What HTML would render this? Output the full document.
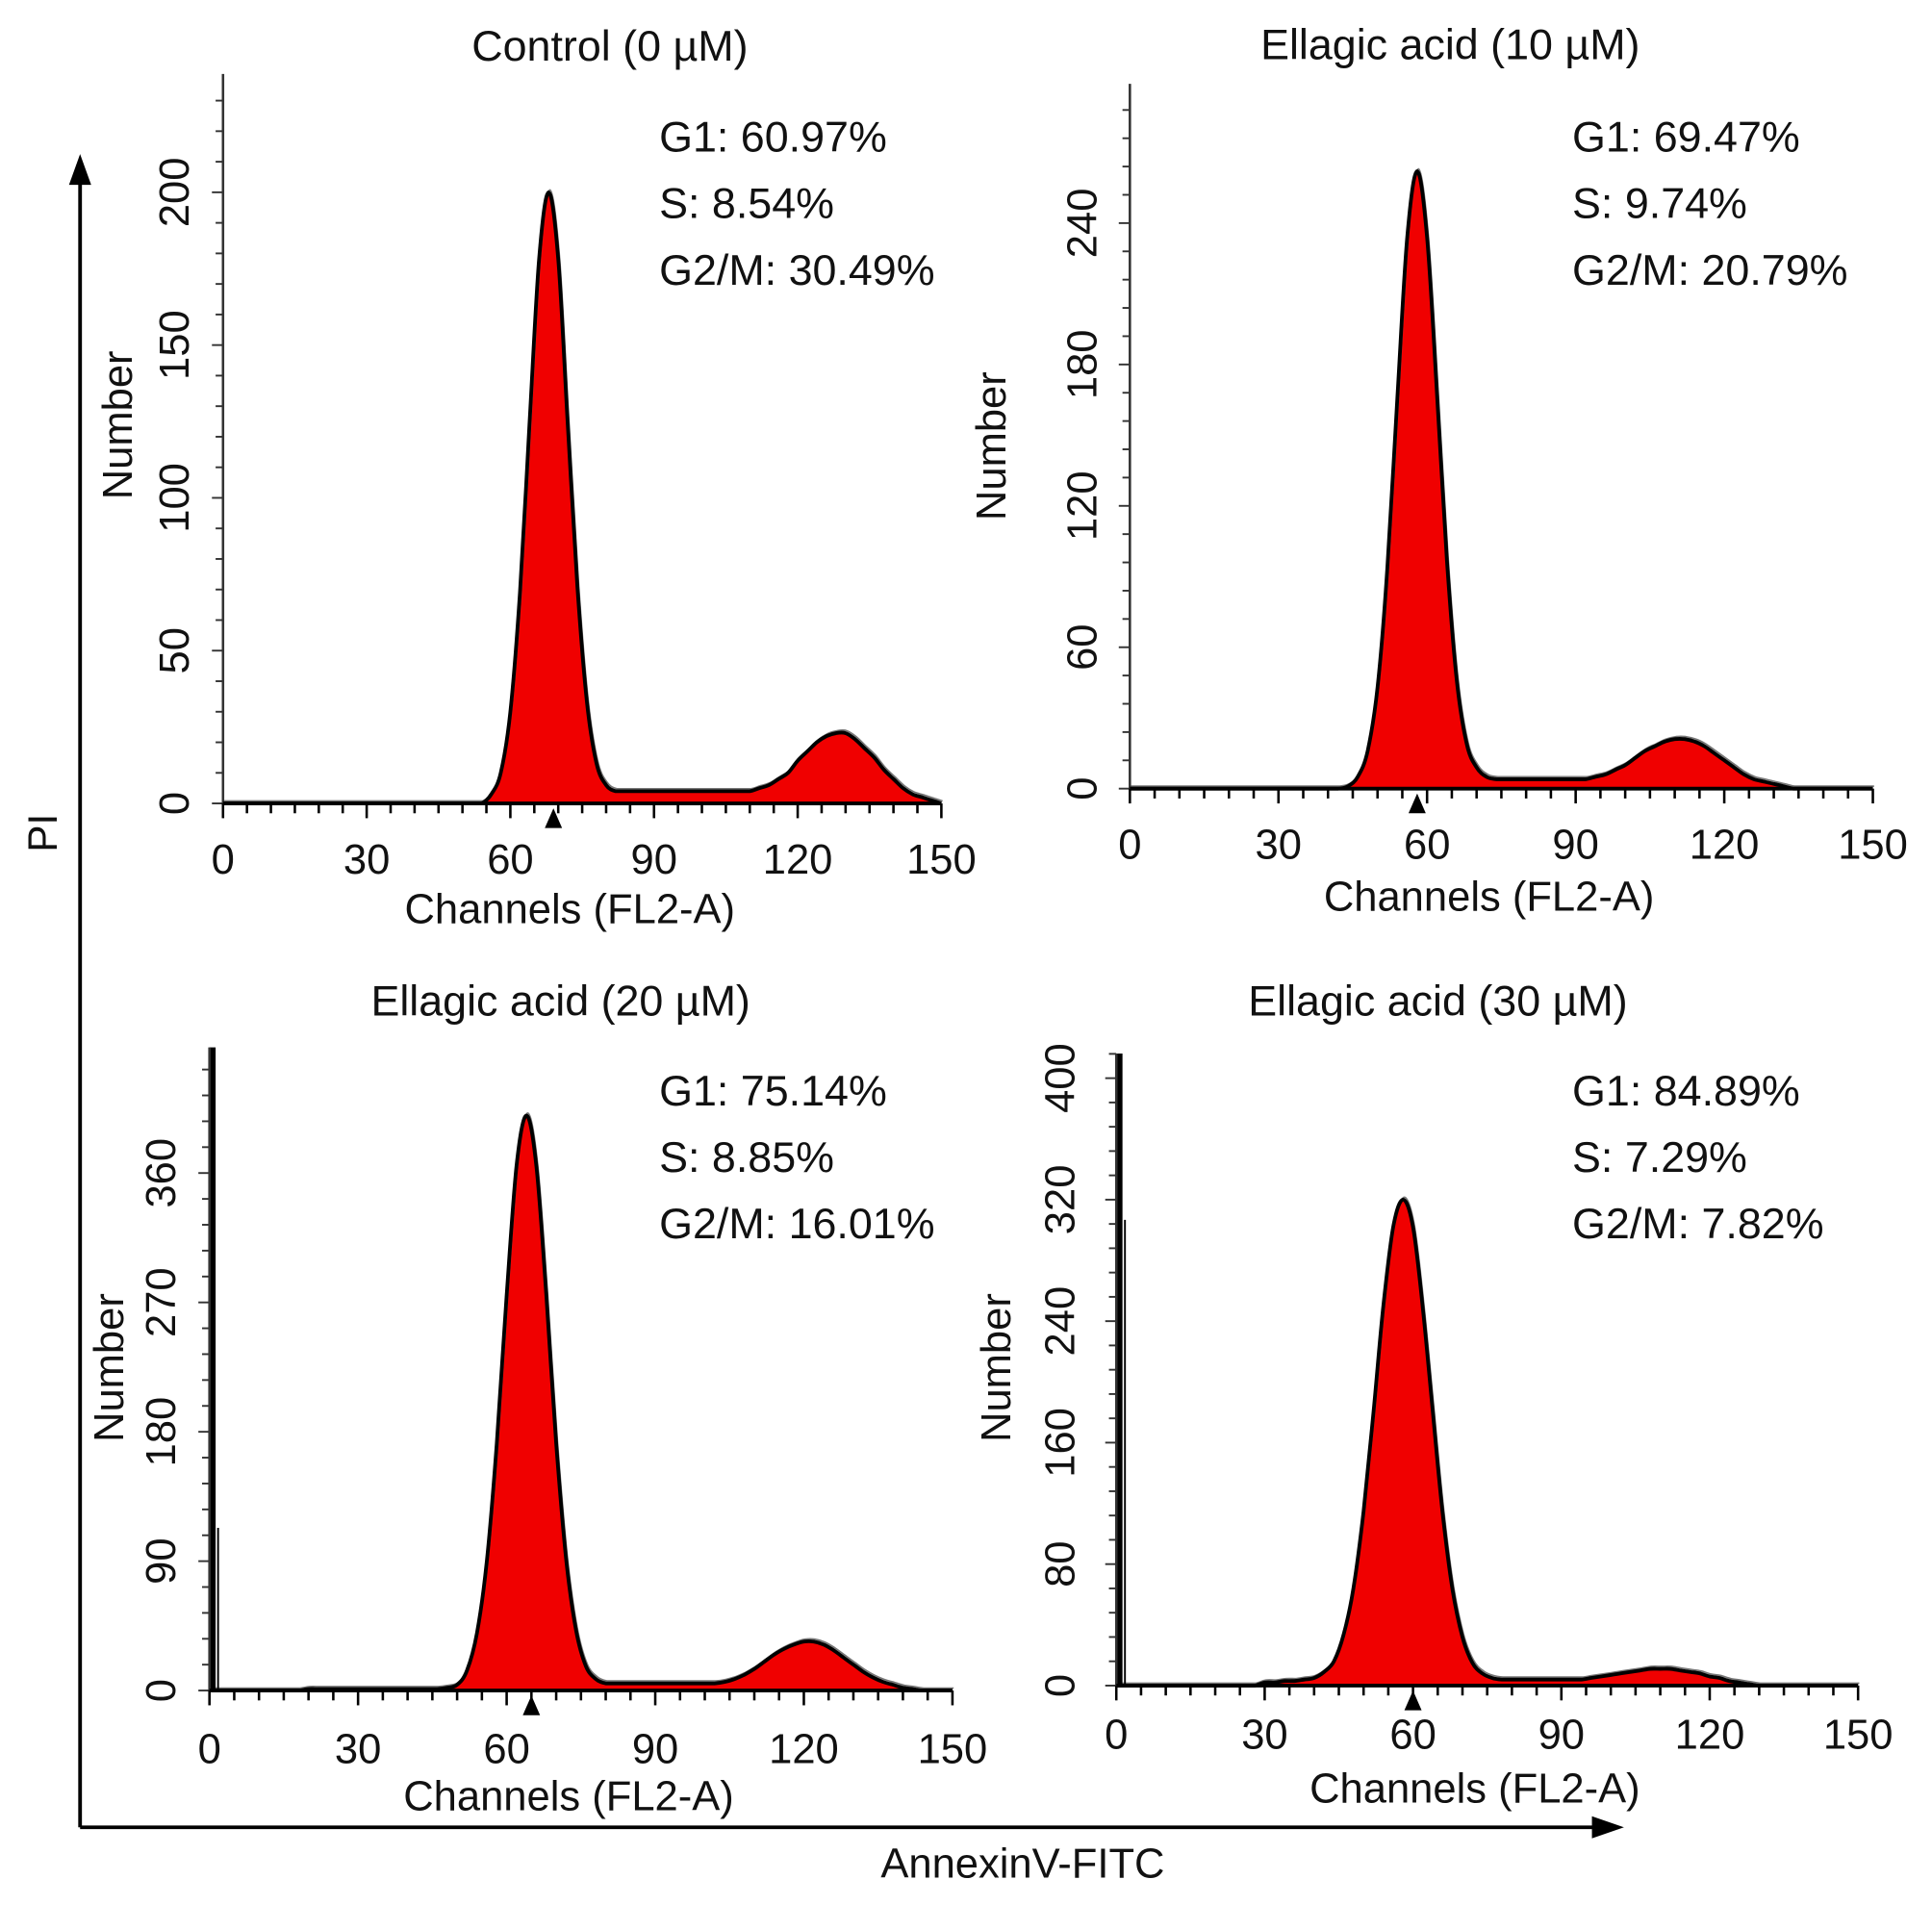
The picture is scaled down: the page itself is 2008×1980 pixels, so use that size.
<!DOCTYPE html>
<html><head><meta charset="utf-8"><style>
html,body{margin:0;padding:0;background:#fff}
svg{display:block}
text{font-family:"Liberation Sans",Arial,sans-serif;fill:#111}
</style></head><body>
<svg id="fig" width="2008" height="1980" viewBox="0 0 1568 1546" xmlns="http://www.w3.org/2000/svg">
<g>
<line x1="65" y1="1483" x2="65" y2="145" stroke="#000" stroke-width="3"/>
<polygon points="56,150 74,150 65,125" fill="#000"/>
<line x1="65" y1="1483" x2="1295" y2="1483" stroke="#000" stroke-width="3"/>
<polygon points="1292,1474 1292,1492 1318,1483" fill="#000"/>
<text transform="translate(46,676) rotate(-90)" font-size="33" text-anchor="middle">PI</text>
<text x="830" y="1524" font-size="34" text-anchor="middle">AnnexinV-FITC</text>
</g>
</svg>
<script>
const channels = [0,2,4,6,8,10,12,14,16,18,20,22,24,26,28,30,32,34,36,38,40,42,44,46,48,50,52,54,56,58,60,62,64,66,68,70,72,74,76,78,80,82,84,86,88,90,92,94,96,98,100,102,104,106,108,110,112,114,116,118,120,122,124,126,128,130,132,134,136,138,140,142,144,146,148,150];
const xTicks = [0,30,60,90,120,150];
const countsControl = [0,0,0,0,0,0,0,0,0,0,0,0,0,0,0,0,0,0,0,0,0,0,0,0,0,0,0,0,3,10,30,69,124,178,200,178,124,71,33,13,6,4,4,4,4,4,4,4,4,4,4,4,4,4,4,4,5,6,8,10,14,17,20,22,23,23,21,18,15,11,8,5,3,2,1,0];
const counts10 = [0,0,0,0,0,0,0,0,0,0,0,0,0,0,0,0,0,0,0,0,0,0,1,5,16,43,94,166,234,262,234,168,97,46,19,9,5,4,4,4,4,4,4,4,4,4,4,5,6,8,10,13,16,18,20,21,21,20,18,15,12,9,6,4,3,2,1,0,0,0,0,0,0,0,0,0];
const counts20 = [0,0,0,0,0,0,0,0,0,0,1,1,1,1,1,1,1,1,1,1,1,1,1,1,2,4,14,40,90,172,275,365,400,365,275,172,92,42,17,8,5,5,5,5,5,5,5,5,5,5,5,5,6,8,11,15,20,25,29,32,34,34,32,28,23,18,13,9,6,4,2,1,0,0,0,0];
const counts30 = [0,0,0,0,0,0,0,0,0,0,0,0,0,0,0,2,2,3,3,4,5,9,16,34,65,115,180,250,302,320,302,248,180,113,63,32,15,8,5,4,4,4,4,4,4,4,4,4,5,6,7,8,9,10,11,11,11,10,9,8,6,5,3,2,1,0,0,0,0,0,0,0,0,0,0,0];
const yTicksControl = [0,50,100,150,200];
const yTicks10 = [0,60,120,180,240];
const yTicks20 = [0,90,180,270,360];
const yTicks30 = [0,80,160,240,320,400];
const titles = ["Control (0 \u00b5M)","Ellagic acid (10 \u00b5M)","Ellagic acid (20 \u00b5M)","Ellagic acid (30 \u00b5M)"];
const statsControl = ["G1: 60.97%","S: 8.54%","G2/M: 30.49%"];
const stats10 = ["G1: 69.47%","S: 9.74%","G2/M: 20.79%"];
const stats20 = ["G1: 75.14%","S: 8.85%","G2/M: 16.01%"];
const stats30 = ["G1: 84.89%","S: 7.29%","G2/M: 7.82%"];

const NS="http://www.w3.org/2000/svg";
const svg=document.getElementById('fig');
function mk(tag,attrs,parent){const e=document.createElementNS(NS,tag);for(const k in attrs)e.setAttribute(k,attrs[k]);(parent||svg).appendChild(e);return e;}
function smooth(pts){
 let d='M'+pts[0][0].toFixed(1)+','+pts[0][1].toFixed(1);
 for(let i=0;i<pts.length-1;i++){
  const p0=pts[Math.max(0,i-1)],p1=pts[i],p2=pts[i+1],p3=pts[Math.min(pts.length-1,i+2)];
  let c1y=p1[1]+(p2[1]-p0[1])/6,c2y=p2[1]-(p3[1]-p1[1])/6;
  const base=Math.max(p1[1],p2[1]);c1y=Math.min(c1y,base);c2y=Math.min(c2y,base);
  d+=' C'+(p1[0]+(p2[0]-p0[0])/6).toFixed(1)+','+c1y.toFixed(1)+' '+(p2[0]-(p3[0]-p1[0])/6).toFixed(1)+','+c2y.toFixed(1)+' '+p2[0].toFixed(1)+','+p2[1].toFixed(1);
 }
 return d;
}

const panels=[
 {key:'control',x0:181,x1:764,y0:652,ppu:2.48,top:60,minor:10,yt:yTicksControl,counts:countsControl,title:titles[0],tx:495,ty:49,stats:statsControl,sx:535,sy:123,ylx:153,numx:107,numy:345,xly:709,chy:749,spike:null,mean:69},
 {key:'10um',x0:917,x1:1520,y0:640,ppu:1.9125,top:68,minor:12,yt:yTicks10,counts:counts10,title:titles[1],tx:1177,ty:48,stats:stats10,sx:1276,sy:123,ylx:890,numx:816,numy:362,xly:697,chy:739,spike:null,mean:58},
 {key:'20um',x0:170,x1:773,y0:1372,ppu:1.1667,top:850,minor:18,yt:yTicks20,counts:counts20,title:titles[2],tx:455,ty:824,stats:stats20,sx:535,sy:897,ylx:142,numx:100,numy:1110,xly:1431,chy:1469,spike:{top:850,inner:1240},mean:65},
 {key:'30um',x0:906,x1:1508,y0:1368,ppu:1.2325,top:855,minor:16,yt:yTicks30,counts:counts30,title:titles[3],tx:1167,ty:824,stats:stats30,sx:1276,sy:897,ylx:872,numx:820,numy:1110,xly:1419,chy:1463,spike:{top:855,inner:990},mean:60}
];

panels.forEach(p=>{
 const g=mk('g',{});
 
 
 const xs=c=>p.x0+(p.x1-p.x0)*c/150;
 const ys=v=>p.y0-v*p.ppu;
 const t=mk('text',{x:p.tx,y:p.ty,'font-size':35,'text-anchor':'middle'},g);t.textContent=p.title;
 
 
 const pts=channels.map((c,i)=>[xs(c),ys(p.counts[i])]);
 const curve=smooth(pts);
 const fill=mk('path',{d:curve+' L'+xs(150)+','+p.y0+' L'+xs(0)+','+p.y0+' Z',fill:'#f00000',stroke:'none'},g);
 
 
 const raw=mk('path',{d:curve,fill:'none',stroke:'#777','stroke-width':1.3,transform:'translate(1,-2)'},g);
 
 
 const line=mk('path',{d:curve,fill:'none',stroke:'#000','stroke-width':3,'stroke-linejoin':'round'},g);
 
 
 if(p.spike){
  const s=mk('rect',{x:p.x0,y:p.spike.top,width:5,height:p.y0-p.spike.top,fill:'#000'},g);
  
  
  mk('line',{x1:p.x0+7,y1:p.spike.inner,x2:p.x0+7,y2:p.y0,stroke:'#000','stroke-width':1.5},g);
 }
 const ax=mk('g',{},g);
 
 
 mk('line',{x1:p.x0,y1:p.top,x2:p.x0,y2:p.y0,stroke:'#333','stroke-width':2},ax);
 mk('line',{x1:p.x0,y1:p.y0,x2:p.x1,y2:p.y0,stroke:'#000','stroke-width':3},ax);
 for(let v=0;ys(v)>=p.top;v+=p.minor){
  const maj=p.yt.indexOf(v)>=0;
  mk('line',{x1:p.x0-(maj?9:6),y1:ys(v),x2:p.x0,y2:ys(v),stroke:'#333','stroke-width':1.5},ax);
 }
 for(let c=0;c<=150;c+=5){
  const maj=c%30===0;
  mk('line',{x1:xs(c),y1:p.y0,x2:xs(c),y2:p.y0+(maj?12:8),stroke:'#000','stroke-width':2},ax);
 }
 p.yt.forEach(v=>{
  const tl=mk('text',{transform:'translate('+p.ylx+','+ys(v)+') rotate(-90)','font-size':34,'text-anchor':'middle'},ax);
  tl.textContent=v;
  
  
 });
 xTicks.forEach(c=>{
  const tl=mk('text',{x:xs(c),y:p.xly,'font-size':34,'text-anchor':'middle'},ax);
  tl.textContent=c;
  
  
 });
 const mkr=mk('polygon',{points:(xs(p.mean)-7)+','+(p.y0+20)+' '+(xs(p.mean)+7)+','+(p.y0+20)+' '+xs(p.mean)+','+(p.y0+4),fill:'#000'},g);
 
 
 const yl=mk('text',{transform:'translate('+p.numx+','+p.numy+') rotate(-90)','font-size':34,'text-anchor':'middle'},g);
 yl.textContent='Number';
 
 
 const xl=mk('text',{x:(p.x0+p.x1)/2-10,y:p.chy,'font-size':34,'text-anchor':'middle'},g);
 xl.textContent='Channels (FL2-A)';
 
 
 p.stats.forEach((s,i)=>{
  const st=mk('text',{x:p.sx,y:p.sy+i*54,'font-size':35},g);
  st.textContent=s;
  
  
 });
});
</script>
</body></html>
